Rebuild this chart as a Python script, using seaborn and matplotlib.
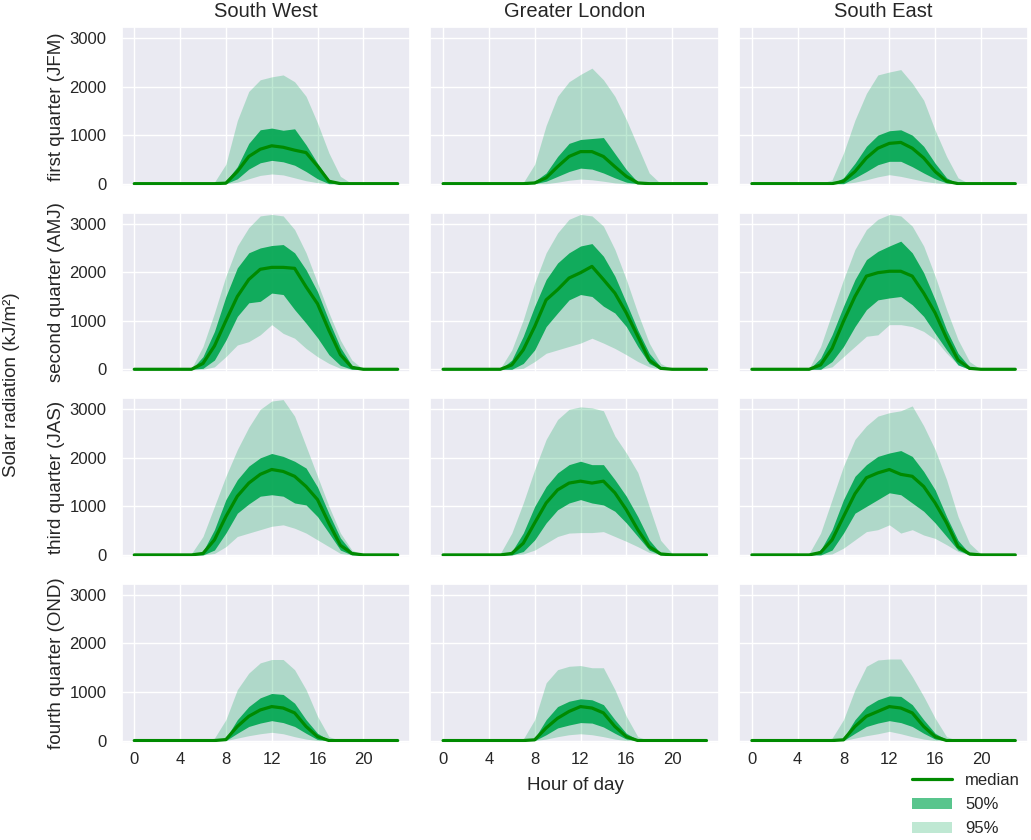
import matplotlib
matplotlib.use("Agg")
import matplotlib.pyplot as plt
import seaborn as sns
import pandas as pd
from matplotlib.lines import Line2D
from matplotlib.patches import Patch

HOURS = list(range(24))
REGIONS = ["South West", "Greater London", "South East"]
REGION_KEYS = ["SW", "GL", "SE"]
QUARTERS = ["first quarter (JFM)", "second quarter (AMJ)",
            "third quarter (JAS)", "fourth quarter (OND)"]
QUARTER_KEYS = ["Q1", "Q2", "Q3", "Q4"]
X_TICKS = [0, 4, 8, 12, 16, 20]
Y_TICKS = [0, 1000, 2000, 3000]
LEGEND_LABELS = ["median", "50%", "95%"]

# ---- South West ----
SW_Q1_LO95 = [0,0,0,0,0,0, 0,0,0,30,100,170, 200,180,120,60,20,0, 0,0,0,0,0,0]
SW_Q1_LO50 = [0,0,0,0,0,0, 0,0,0,100,300,430, 480,450,380,250,100,0, 0,0,0,0,0,0]
SW_Q1_MED  = [0,0,0,0,0,0, 0,0,10,250,560,710, 780,750,690,640,360,50, 0,0,0,0,0,0]
SW_Q1_HI50 = [0,0,0,0,0,0, 0,0,50,350,830,1110, 1145,1100,1130,800,420,80, 0,0,0,0,0,0]
SW_Q1_HI95 = [0,0,0,0,0,0, 0,30,400,1300,1900,2140, 2200,2240,2100,1800,1250,630, 150,0,0,0,0,0]

SW_Q2_LO95 = [0,0,0,0,0,0, 0,50,260,500,570,710, 920,740,640,430,260,120, 20,0,0,0,0,0]
SW_Q2_LO50 = [0,0,0,0,0,0, 20,190,600,1090,1370,1400, 1570,1540,1230,950,650,300, 80,0,0,0,0,0]
SW_Q2_MED  = [0,0,0,0,0,0, 120,480,1000,1500,1850,2060, 2100,2100,2080,1700,1350,800, 300,40,0,0,0,0]
SW_Q2_HI50 = [0,0,0,0,0,0, 260,780,1500,2090,2400,2500, 2550,2570,2400,2050,1600,1000, 450,80,0,0,0,0]
SW_Q2_HI95 = [0,0,0,0,0,20, 470,1160,1920,2540,2920,3160, 3190,3160,2880,2400,1780,1160, 600,190,0,0,0,0]

SW_Q3_LO95 = [0,0,0,0,0,0, 0,30,170,380,450,520, 590,620,550,450,310,170, 30,0,0,0,0,0]
SW_Q3_LO50 = [0,0,0,0,0,0, 0,100,450,860,1050,1210, 1240,1210,1070,1030,790,450, 100,0,0,0,0,0]
SW_Q3_MED  = [0,0,0,0,0,0, 30,310,790,1210,1480,1660, 1760,1720,1620,1410,1140,650, 200,30,0,0,0,0]
SW_Q3_HI50 = [0,0,0,0,0,0, 70,520,1140,1550,1830,2000, 2090,2030,1930,1790,1400,850, 350,60,0,0,0,0]
SW_Q3_HI95 = [0,0,0,0,0,30, 380,1000,1620,2170,2630,3000, 3170,3200,2860,2240,1620,1000, 450,100,0,0,0,0]

SW_Q4_LO95 = [0,0,0,0,0,0, 0,0,0,50,100,140, 170,140,80,30,0,0, 0,0,0,0,0,0]
SW_Q4_LO50 = [0,0,0,0,0,0, 0,0,0,150,290,360, 410,370,290,150,20,0, 0,0,0,0,0,0]
SW_Q4_MED  = [0,0,0,0,0,0, 0,0,20,290,500,630, 700,670,570,290,80,0, 0,0,0,0,0,0]
SW_Q4_HI50 = [0,0,0,0,0,0, 0,0,50,430,700,880, 970,950,770,430,150,10, 0,0,0,0,0,0]
SW_Q4_HI95 = [0,0,0,0,0,0, 0,50,430,1050,1390,1600, 1670,1670,1460,1050,500,80, 0,0,0,0,0,0]

# ---- Greater London ----
GL_Q1_LO95 = [0,0,0,0,0,0, 0,0,0,0,30,70, 95,80,50,15,0,0, 0,0,0,0,0,0]
GL_Q1_LO50 = [0,0,0,0,0,0, 0,0,0,50,150,250, 320,300,220,120,30,0, 0,0,0,0,0,0]
GL_Q1_MED  = [0,0,0,0,0,0, 0,0,15,120,350,560, 660,660,560,350,150,15, 0,0,0,0,0,0]
GL_Q1_HI50 = [0,0,0,0,0,0, 0,0,50,220,560,830, 910,930,950,620,290,30, 0,0,0,0,0,0]
GL_Q1_HI95 = [0,0,0,0,0,0, 0,20,400,1200,1800,2100, 2250,2380,2140,1800,1320,770, 220,0,0,0,0,0]

GL_Q2_LO95 = [0,0,0,0,0,0, 0,20,160,330,400,470, 540,640,540,430,300,160, 50,0,0,0,0,0]
GL_Q2_LO50 = [0,0,0,0,0,0, 0,120,400,880,1160,1430, 1540,1500,1300,1160,880,470, 120,0,0,0,0,0]
GL_Q2_MED  = [0,0,0,0,0,0, 90,400,880,1430,1640,1880, 1990,2120,1850,1570,1160,680, 190,20,0,0,0,0]
GL_Q2_HI50 = [0,0,0,0,0,0, 190,680,1300,1850,2190,2400, 2540,2590,2330,1920,1370,810, 330,50,0,0,0,0]
GL_Q2_HI95 = [0,0,0,0,0,20, 400,1020,1780,2400,2810,3090, 3190,3160,2950,2470,1850,1160, 540,120,0,0,0,0]

GL_Q3_LO95 = [0,0,0,0,0,0, 0,20,100,240,380,450, 460,460,480,380,280,170, 50,0,0,0,0,0]
GL_Q3_LO50 = [0,0,0,0,0,0, 0,70,310,660,930,1070, 1140,1070,1030,900,660,380, 100,0,0,0,0,0]
GL_Q3_MED  = [0,0,0,0,0,0, 30,240,660,1070,1340,1480, 1520,1480,1520,1280,930,520, 170,20,0,0,0,0]
GL_Q3_HI50 = [0,0,0,0,0,0, 70,450,1000,1410,1690,1860, 1930,1860,1860,1550,1210,790, 310,30,0,0,0,0]
GL_Q3_HI95 = [0,0,0,0,0,30, 450,1070,1760,2380,2790,3000, 3050,3030,2970,2450,2100,1700, 1000,300,30,0,0,0]

GL_Q4_LO95 = [0,0,0,0,0,0, 0,0,0,30,80,120, 140,120,80,30,0,0, 0,0,0,0,0,0]
GL_Q4_LO50 = [0,0,0,0,0,0, 0,0,0,120,260,320, 370,360,280,150,30,0, 0,0,0,0,0,0]
GL_Q4_MED  = [0,0,0,0,0,0, 0,0,15,260,460,600, 700,670,570,290,80,0, 0,0,0,0,0,0]
GL_Q4_HI50 = [0,0,0,0,0,0, 0,0,50,430,700,810, 860,840,740,430,150,15, 0,0,0,0,0,0]
GL_Q4_HI95 = [0,0,0,0,0,0, 0,30,430,1190,1460,1530, 1545,1500,1500,1050,500,80, 0,0,0,0,0,0]

# ---- South East ----
SE_Q1_LO95 = [0,0,0,0,0,0, 0,0,0,30,80,140, 185,150,100,50,15,0, 0,0,0,0,0,0]
SE_Q1_LO50 = [0,0,0,0,0,0, 0,0,0,120,250,390, 460,460,350,220,100,15, 0,0,0,0,0,0]
SE_Q1_MED  = [0,0,0,0,0,0, 0,0,50,250,530,730, 830,850,730,530,250,50, 0,0,0,0,0,0]
SE_Q1_HI50 = [0,0,0,0,0,0, 0,0,120,420,770,1000, 1090,1110,1000,770,420,120, 0,0,0,0,0,0]
SE_Q1_HI95 = [0,0,0,0,0,0, 0,80,630,1310,1860,2240, 2300,2350,2070,1720,1100,560, 120,0,0,0,0,0]

SE_Q2_LO95 = [0,0,0,0,0,0, 0,50,260,470,680,710, 920,920,880,780,610,330, 90,0,0,0,0,0]
SE_Q2_LO50 = [0,0,0,0,0,0, 0,160,470,880,1230,1430, 1470,1500,1330,1090,740,400, 90,0,0,0,0,0]
SE_Q2_MED  = [0,0,0,0,0,0, 90,430,990,1500,1920,1990, 2020,2020,1920,1570,1160,640, 190,20,0,0,0,0]
SE_Q2_HI50 = [0,0,0,0,0,0, 230,710,1300,1850,2260,2430, 2540,2640,2400,1990,1430,810, 330,50,0,0,0,0]
SE_Q2_HI95 = [0,0,0,0,0,20, 470,1160,1850,2470,2880,3090, 3190,3160,2950,2540,1920,1230, 610,160,0,0,0,0]

SE_Q3_LO95 = [0,0,0,0,0,0, 0,20,140,310,480,520, 620,450,520,410,340,210, 70,0,0,0,0,0]
SE_Q3_LO50 = [0,0,0,0,0,0, 0,100,450,860,1000,1140, 1280,1240,1070,900,660,380, 100,0,0,0,0,0]
SE_Q3_MED  = [0,0,0,0,0,0, 50,310,790,1260,1590,1690, 1760,1660,1620,1410,1070,660, 170,20,0,0,0,0]
SE_Q3_HI50 = [0,0,0,0,0,0, 100,520,1140,1620,1860,2030, 2100,2150,2030,1720,1340,790, 300,30,0,0,0,0]
SE_Q3_HI95 = [0,0,0,0,0,30, 450,1140,1830,2380,2660,2860, 2930,2970,3070,2660,2170,1550, 790,240,20,0,0,0]

SE_Q4_LO95 = [0,0,0,0,0,0, 0,0,0,50,100,140, 190,140,80,30,0,0, 0,0,0,0,0,0]
SE_Q4_LO50 = [0,0,0,0,0,0, 0,0,0,150,290,360, 410,370,290,150,30,0, 0,0,0,0,0,0]
SE_Q4_MED  = [0,0,0,0,0,0, 0,0,15,290,500,600, 700,670,570,290,80,0, 0,0,0,0,0,0]
SE_Q4_HI50 = [0,0,0,0,0,0, 0,0,50,430,700,840, 920,910,740,430,150,15, 0,0,0,0,0,0]
SE_Q4_HI95 = [0,0,0,0,0,0, 0,50,430,1050,1530,1660, 1680,1680,1320,910,460,80, 0,0,0,0,0,0]

# ---- styling ----
C_MED = "#008a00"
C_50 = "#00a650"
C_95 = "#00a650"
A_50 = 0.9
A_95 = 0.25

sns.set_theme(style="darkgrid")
plt.rcParams["font.family"] = ["Liberation Sans", "DejaVu Sans"]
plt.rcParams["text.color"] = "#262626"
plt.rcParams["axes.labelcolor"] = "#262626"
plt.rcParams["xtick.color"] = "#262626"
plt.rcParams["ytick.color"] = "#262626"

fig, axes = plt.subplots(4, 3, figsize=(10.31, 8.4), dpi=100, sharex=True, sharey=True)
fig.subplots_adjust(left=0.118, right=0.997, top=0.968, bottom=0.1155,
                    wspace=0.07, hspace=0.166)

data = globals()
for i, qk in enumerate(QUARTER_KEYS):
    for j, rk in enumerate(REGION_KEYS):
        ax = axes[i, j]
        key = f"{rk}_{qk}_"
        df = pd.DataFrame({"hour": HOURS,
                           "lo95": data[key + "LO95"], "hi95": data[key + "HI95"],
                           "lo50": data[key + "LO50"], "hi50": data[key + "HI50"],
                           "med": data[key + "MED"]})
        ax.fill_between(df["hour"], df["lo95"], df["hi95"], color=C_95, alpha=A_95, lw=0)
        ax.fill_between(df["hour"], df["lo50"], df["hi50"], color=C_50, alpha=A_50, lw=0)
        sns.lineplot(data=df, x="hour", y="med", ax=ax, color=C_MED, lw=2.3)
        ax.set_xlabel("")
        ax.set_ylabel("")
        ax.set_xticks(X_TICKS)
        ax.set_yticks(Y_TICKS)
        ax.set_xlim(-1.1, 24.1)
        ax.set_ylim(-50, 3230)
        ax.tick_params(axis="y", labelsize=12, pad=5)
        ax.tick_params(axis="x", labelsize=12, pad=0.5)
        if i == 0:
            ax.set_title(REGIONS[j], fontsize=14.5, pad=7)
        if j == 0:
            ax.set_ylabel(QUARTERS[i], fontsize=13.5, labelpad=3)

fig.text(12 / 1031, 1 - 385 / 840, "Solar radiation (kJ/m²)", rotation=90,
         ha="center", va="center", fontsize=13.5, color="#262626")
fig.text(575 / 1031, 1 - 785 / 840, "Hour of day", ha="center", va="center",
         fontsize=13.5, color="#262626")

handles = [Line2D([0], [0], color=C_MED, lw=2.3),
           Patch(facecolor=C_50, alpha=0.65, edgecolor="none"),
           Patch(facecolor=C_95, alpha=A_95, edgecolor="none")]
fig.legend(handles, LEGEND_LABELS, loc="upper left",
           bbox_to_anchor=(912 / 1031, 1 - 773 / 840), frameon=False,
           fontsize=12, handlelength=2.4, labelspacing=0.55, handletextpad=0.8,
           borderaxespad=0, borderpad=0)

fig.savefig("out.png", dpi=100)
